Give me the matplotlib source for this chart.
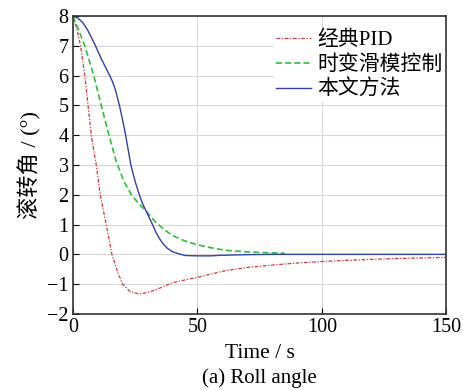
import matplotlib
matplotlib.use('Agg')
import matplotlib.pyplot as plt

plt.rcParams['font.family'] = ['Liberation Serif', 'Noto Sans CJK SC']

# 经典PID
t_pid = [0, 1.5, 3.1, 4.8, 6.1, 7.4, 9.4, 11, 13.4, 15.7, 18, 20, 23, 26.7,
         30, 33.3, 40, 50, 61, 70, 80, 90, 100, 110, 120, 130, 140, 150]
y_pid = [8, 7.6, 7, 6, 5, 4, 3, 2, 1, 0, -0.6, -1, -1.25, -1.33,
         -1.28, -1.19, -0.95, -0.77, -0.55, -0.44, -0.36, -0.29, -0.24,
         -0.2, -0.17, -0.14, -0.12, -0.1]

# 时变滑模控制
t_smc = [0, 1.5, 2.8, 4.8, 8.4, 11.4, 14.5, 17.5, 20.5, 23.5, 26.5, 29.5,
         33, 36, 40, 45, 50, 55, 61, 70, 80, 85]
y_smc = [8, 7.7, 7.42, 7, 6, 5, 4, 3.1, 2.45, 2, 1.7, 1.45,
         1.1, 0.88, 0.63, 0.45, 0.32, 0.23, 0.14, 0.08, 0.05, 0.04]

# 本文方法
t_new = [0, 2, 4, 6, 8.8, 11.5, 14.5, 15.8, 17, 18.7, 20, 21.2, 23.3,
         25, 26.7, 28, 30, 32, 33.3, 35, 36.6, 38, 40, 42.5, 45.2, 50, 55,
         60, 70, 80, 100, 150]
y_new = [8, 7.93, 7.78, 7.52, 7.05, 6.55, 6.05, 5.82, 5.55, 5, 4.5, 4, 3,
         2.45, 2, 1.7, 1.35, 1, 0.75, 0.5, 0.32, 0.2, 0.09, 0.02, -0.04,
         -0.05, -0.05, -0.03, -0.01, 0, 0, 0]

fig = plt.figure(figsize=(4.64, 3.9), dpi=100)
ax = fig.add_axes([0.157, 0.195, 0.805, 0.764])

ax.plot(t_pid, y_pid, color='#d03a3a', linewidth=0.9,
        dashes=[3, 1.3, 1, 1.3], label='经典PID')
ax.plot(t_smc, y_smc, color='#2fbf3a', linewidth=1.2,
        dashes=[3.6, 1.9], label='时变滑模控制')
ax.plot(t_new, y_new, color='#3340a8', linestyle='-', linewidth=1.0,
        label='本文方法')

ax.set_xlim(0, 150)
ax.set_ylim(-2, 8)
ax.set_xticks([0, 50, 100, 150])
ax.set_yticks(range(-2, 9))
ax.grid(True, color='#d8d8d8', linewidth=0.8)
ax.tick_params(direction='in', labelsize=14.5, length=4, pad=3,
               top=False, right=False)
for s in ax.spines.values():
    s.set_linewidth(1.2)
    s.set_color('#333333')

ax.set_xlabel('Time / s', fontsize=15.5, labelpad=5)
ax.set_ylabel('滚转角 / (°)', fontsize=16, labelpad=4)

leg = ax.legend(loc='upper right', bbox_to_anchor=(1.012, 0.98), fontsize=15,
                frameon=True, fancybox=False, handlelength=1.7,
                handletextpad=0.3, labelspacing=0.25, borderpad=0.1,
                borderaxespad=0.3)
leg.get_frame().set_edgecolor('none')
leg.get_frame().set_facecolor('white')
leg.get_frame().set_alpha(1)

fig.text(0.56, 0.031, '(a) Roll angle', ha='center', va='center', fontsize=15)

fig.savefig('out.png', dpi=100)
